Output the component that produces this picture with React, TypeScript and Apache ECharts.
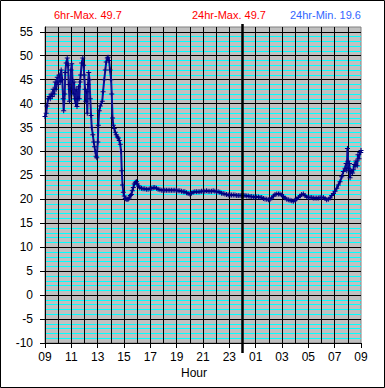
import React, { useEffect, useRef } from 'react';
import * as echarts from 'echarts';

// hours since 09:00
const hours = [
  0.0, 0.09, 0.15, 0.24, 0.32, 0.4, 0.47, 0.55, 0.62, 0.7, 0.78, 0.85, 0.93, 1.0, 1.08, 1.16, 1.23, 1.31, 1.38, 1.42,
  1.5, 1.54, 1.61, 1.69, 1.75, 1.8, 1.86, 1.92, 1.98, 2.03, 2.09, 2.14, 2.21, 2.26, 2.32, 2.37, 2.43, 2.49, 2.55, 2.6,
  2.66, 2.71, 2.79, 2.87, 2.93, 2.98, 3.04, 3.1, 3.16, 3.21, 3.27, 3.32, 3.38, 3.44, 3.5, 3.55, 3.63, 3.7, 3.76, 3.82,
  3.88, 3.93, 4.01, 4.05, 4.12, 4.2, 4.27, 4.35, 4.41, 4.5, 4.58, 4.65, 4.73, 4.79, 4.87, 4.94, 5.02, 5.07, 5.13, 5.19,
  5.26, 5.34, 5.41, 5.49, 5.57, 5.64, 5.72, 5.78, 5.83, 5.89, 5.95, 6.02, 6.1, 6.17, 6.25, 6.33, 6.4, 6.48, 6.56, 6.63,
  6.71, 6.78, 6.86, 6.95, 7.01, 7.09, 7.2, 7.33, 7.45, 7.58, 7.7, 7.83, 7.97, 8.11, 8.22, 8.34, 8.47, 8.59, 8.73, 8.87,
  8.98, 9.1, 9.22, 9.35, 9.48, 9.6, 9.73, 9.86, 9.98, 10.11, 10.24, 10.37, 10.5, 10.62, 10.75, 10.87, 11.0, 11.12, 11.25, 11.38,
  11.5, 11.63, 11.76, 11.88, 12.01, 12.14, 12.27, 12.39, 12.52, 12.65, 12.77, 12.9, 13.03, 13.15, 13.28, 13.41, 13.53, 13.66, 13.79, 13.92,
  14.05, 14.17, 14.3, 14.43, 14.56, 14.68, 14.81, 14.94, 15.06, 15.19, 15.32, 15.44, 15.57, 15.7, 15.83, 15.95, 16.08, 16.21, 16.33, 16.46,
  16.59, 16.71, 16.84, 16.97, 17.09, 17.22, 17.35, 17.47, 17.6, 17.73, 17.85, 17.98, 18.1, 18.23, 18.36, 18.48, 18.61, 18.74, 18.86, 18.99,
  19.11, 19.24, 19.37, 19.49, 19.62, 19.75, 19.88, 20.0, 20.13, 20.26, 20.38, 20.51, 20.64, 20.76, 20.89, 21.01, 21.14, 21.27, 21.39, 21.52,
  21.65, 21.78, 21.9, 22.03, 22.16, 22.28, 22.41, 22.54, 22.66, 22.79, 22.87, 22.92, 22.97, 23.02, 23.07, 23.12, 23.17, 23.23, 23.3, 23.36,
  23.42, 23.49, 23.56, 23.62, 23.71, 23.77, 23.85, 23.92, 23.98, 24.0,
];

// temperature readings
const temps = [
  37.3, 38, 39.5, 41, 41.5, 41, 42, 41.5, 43, 42, 44.5, 43, 45.5, 44, 46, 44.5, 47, 45, 41, 38.5,
  42, 46.5, 48.5, 49.5, 48, 44, 40.5, 43, 47, 48.3, 45, 42, 44.5, 41, 40, 43, 39.4, 41, 43.5, 41,
  44.5, 46, 48.5, 49.5, 48, 46, 43, 40.5, 42.5, 38, 44, 46.5, 45, 41, 37.5, 35, 33.5, 32, 31, 30,
  29, 28.7, 32, 35.5, 38.5, 39.5, 40, 40.5, 42.5, 45, 47, 48.7, 49.5, 49.7, 49, 47, 45, 42, 37, 35.5,
  34.8, 34, 33.5, 33, 32.8, 32.3, 31.5, 30, 26, 23, 21.5, 20.7, 20.2, 20, 20, 20.1, 20.3, 20.8, 21, 21.8,
  22.5, 23.2, 23.6, 23.7, 23.2, 22.8, 22.4, 22.3, 22.2, 22.2, 22.1, 22.1, 22.2, 22.3, 22.4, 22.5, 22.3, 22.1, 22.0, 21.9,
  21.9, 21.9, 21.9, 21.9, 21.9, 21.9, 21.9, 21.9, 21.9, 21.8, 21.8, 21.7, 21.6, 21.6, 21.4, 21.2, 21.1, 21.3, 21.5, 21.6,
  21.6, 21.6, 21.6, 21.7, 21.7, 21.7, 21.8, 21.7, 21.7, 21.7, 21.8, 21.7, 21.6, 21.6, 21.5, 21.3, 21.2, 21.1, 21.0, 20.9,
  20.9, 20.9, 20.9, 20.9, 20.8, 20.8, 20.8, 20.8, 20.8, 20.8, 20.7, 20.7, 20.6, 20.6, 20.5, 20.5, 20.5, 20.5, 20.4, 20.4,
  20.2, 20.1, 20.0, 19.9, 20.0, 20.3, 20.7, 21.0, 21.1, 21.1, 21.1, 20.9, 20.6, 20.3, 20.0, 19.9, 19.8, 19.7, 19.6, 19.8,
  20.1, 20.4, 20.7, 21.0, 21.1, 20.8, 20.5, 20.4, 20.4, 20.4, 20.3, 20.3, 20.3, 20.3, 20.4, 20.4, 20.4, 20.2, 19.9, 20.0,
  20.3, 20.8, 21.2, 21.7, 22.3, 23.0, 23.7, 24.7, 25.8, 26.5, 27.5, 26.0, 30.6, 28.0, 26.5, 27.5, 24.5, 26.0, 25.8, 25.5,
  26.2, 27.3, 26.9, 28.0, 27.0, 29.3, 28.5, 29.8, 29.8, 30.2,
];

const yTickValues = [-10, -5, 0, 5, 10, 15, 20, 25, 30, 35, 40, 45, 50, 55];
const xTickValues = [0, 2, 4, 6, 8, 10, 12, 14, 16, 18, 20, 22, 24];
const xStartHour = 9;
const midnightOffset = 15;
const headerTexts = ['6hr-Max. 49.7', '24hr-Max. 49.7', '24hr-Min. 19.6'];
const headerColors = ['#ff0000', '#ff0000', '#3366ff'];
const axisTitle = 'Hour';

const FONT = 'Arial, "Liberation Sans", sans-serif';

export default function App() {
  const ref = useRef<HTMLDivElement>(null);
  useEffect(() => {
    const chart = echarts.init(ref.current!, null, { renderer: 'svg' });
    const X_MIN = 0;
    const X_MAX = 24;
    const Y_MIN = -10;
    const Y_MAX = 56;
    chart.setOption({
      animation: false,
      backgroundColor: '#ffffff',
      grid: {
        left: 45,
        right: 24,
        top: 27,
        bottom: 45,
        show: true,
        backgroundColor: '#c0c0c0',
        borderColor: '#808080',
        borderWidth: 1,
      },
      xAxis: [
        {
          type: 'value',
          min: X_MIN,
          max: X_MAX,
          interval: 1,
          position: 'bottom',
          z: 2,
          axisLine: { show: false },
          axisTick: { show: false },
          axisLabel: { show: false },
          splitLine: { show: true, showMaxLine: false, lineStyle: { color: '#000000', width: 1 } },
        },
        {
          type: 'value',
          min: X_MIN,
          max: X_MAX,
          interval: 2,
          position: 'bottom',
          z: 3,
          axisLine: { show: true, onZero: false, lineStyle: { color: '#000000', width: 1 } },
          axisTick: { show: true, customValues: xTickValues, length: 5, lineStyle: { color: '#000000' } },
          axisLabel: {
            customValues: xTickValues,
            formatter: (v: number) => String((xStartHour + v) % 24).padStart(2, '0'),
            color: '#000000',
            fontFamily: FONT,
            fontSize: 12,
            margin: 8,
          },
          splitLine: { show: false },
        },
      ],
      yAxis: [
        {
          type: 'value',
          min: Y_MIN,
          max: Y_MAX,
          interval: 1,
          position: 'left',
          z: 1,
          axisLine: { show: false },
          axisTick: { show: false },
          axisLabel: { show: false },
          splitLine: {
            show: true,
            showMaxLine: false,
            lineStyle: { color: ['#000000', '#00ffff', '#00ffff', '#00ffff', '#00ffff'], width: 1 },
          },
        },
        {
          type: 'value',
          min: Y_MIN,
          max: Y_MAX,
          interval: 5,
          position: 'left',
          z: 3,
          axisLine: { show: true, onZero: false, lineStyle: { color: '#000000', width: 1 } },
          axisTick: { show: true, customValues: yTickValues, length: 5, lineStyle: { color: '#000000' } },
          axisLabel: {
            customValues: yTickValues,
            color: '#000000',
            fontFamily: FONT,
            fontSize: 12,
            margin: 12,
          },
          splitLine: { show: false },
        },
      ],
      series: [
        {
          type: 'line',
          xAxisIndex: 0,
          yAxisIndex: 0,
          data: hours.map((h, i) => [h, temps[i]]),
          symbol: 'path://M2,0H3V2H5V3H3V5H2V3H0V2H2Z',
          symbolSize: 5,
          showAllSymbol: true,
          itemStyle: { color: '#000080' },
          lineStyle: { color: '#101090', width: 2 },
          z: 3,
        },
      ],
    });

    const mx = chart.convertToPixel({ xAxisIndex: 0 }, midnightOffset) as number;
    const top = chart.convertToPixel({ yAxisIndex: 0 }, Y_MAX) as number;
    const bottom = chart.convertToPixel({ yAxisIndex: 0 }, Y_MIN) as number;
    const headerX = [54, 192, 290];

    chart.setOption({
      graphic: [
        {
          type: 'rect',
          shape: { x: 0.5, y: 0.5, width: 384, height: 387 },
          style: { fill: 'none', stroke: '#000000', lineWidth: 1 },
          z: 100,
        },
        {
          type: 'line',
          shape: { x1: mx, y1: top - 3, x2: mx, y2: bottom + 10 },
          style: { stroke: '#000000', lineWidth: 2.5 },
          z: 50,
        },
        ...headerTexts.map((t, i) => ({
          type: 'text',
          x: headerX[i],
          y: 15,
          style: {
            text: t,
            fill: headerColors[i],
            fontFamily: FONT,
            fontSize: 11,
            align: 'left',
            verticalAlign: 'middle',
          },
          z: 50,
        })),
        {
          type: 'text',
          x: 194,
          y: 373,
          style: {
            text: axisTitle,
            fill: '#000000',
            fontFamily: FONT,
            fontSize: 12,
            align: 'center',
            verticalAlign: 'middle',
          },
          z: 50,
        },
      ],
    });

    return () => chart.dispose();
  }, []);

  return (
    <div
      ref={ref}
      style={{ position: 'fixed', left: 0, top: 0, width: 385, height: 388 }}
    />
  );
}
